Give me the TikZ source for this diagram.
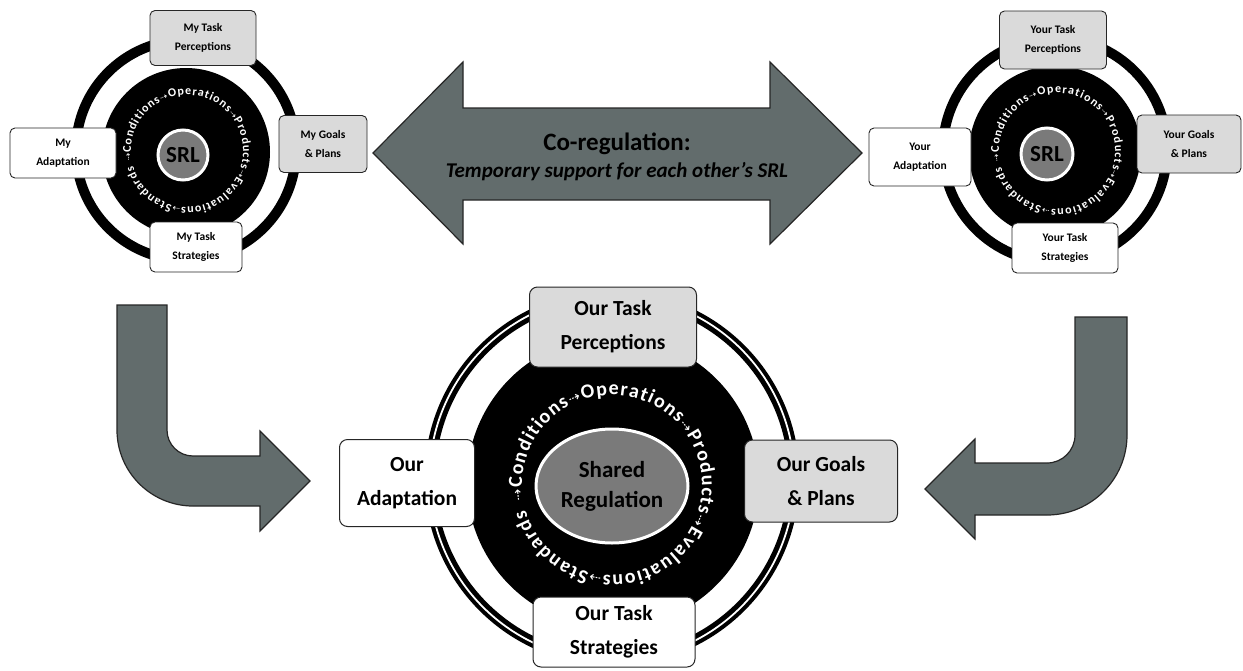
\documentclass[tikz,border=0pt]{standalone}
\usepackage{fontspec}
\setmainfont{Carlito}
\newfontfamily\arrowfamily{DejaVu Sans}
\usetikzlibrary{decorations.text,shapes.geometric}

\definecolor{arrowfill}{RGB}{98,108,108}
\definecolor{boxgray}{RGB}{218,218,218}
\definecolor{coregray}{RGB}{122,122,122}

% fonts of the cycle texts
\newcommand{\smallringfont}{\fontsize{12}{12}\selectfont\bfseries}
\newcommand{\smallarrowfont}{\arrowfamily\fontsize{9}{9}\selectfont}
\newcommand{\bigringfont}{\fontsize{20}{20}\selectfont\bfseries}
\newcommand{\bigarrowfont}{\arrowfamily\fontsize{14}{14}\selectfont}

% white cycle text written clockwise round a circle
% #1 centre, #2 radius, #3 letter font, #4 arrow font
\newcommand{\cyclering}[4]{%
  \path[decorate, decoration={text along path, text color=white,
    text align={fit to path},
    text={|#4|⇢|#3|Conditions|#4|⇢|#3|Operations|#4|⇢|#3|Products|#4|⇢|#3|Evaluations|#4|⇢|#3|Standards}}]
    (#1) ++(170:#2) arc[start angle=170, end angle=524, radius=#2];}

\tikzset{
  bigarrow/.style={fill=arrowfill, draw=black!85, line width=1.2pt, line join=miter},
  smallbox/.style={rounded corners=5pt, draw=black!85, line width=0.9pt, align=center,
    font=\fontsize{11.5}{19}\selectfont\bfseries, inner sep=0pt},
  bigbox/.style={rounded corners=8pt, draw=black!85, line width=1pt, align=center,
    font=\fontsize{21.5}{34}\selectfont\bfseries, inner sep=0pt},
  greybox/.style={fill=boxgray},
  whitebox/.style={fill=white},
  core/.style={fill=coregray, draw=white, line width=3pt, inner sep=0pt, align=center},
}

\begin{document}
\begin{tikzpicture}[x=1pt, y=-1pt]
\useasboundingbox[fill=white] (0,0) rectangle (1243,670);

% ---------- co-regulation double arrow ----------
\draw[bigarrow] (373,153) -- (463,62) -- (463,108) -- (770,108) -- (770,62) -- (862,153)
  -- (770,244) -- (770,200) -- (463,200) -- (463,244) -- cycle;
\node[align=center] (corelabel) at (617,157)
  {\fontsize{25}{27}\selectfont\bfseries Co-regulation:\\[6pt]
   \fontsize{21}{23}\selectfont\bfseries\itshape Temporary support for each other’s SRL};

% ---------- bent arrows into the shared cycle ----------
\draw[bigarrow] (117,305) -- (167,305) -- (167,430) arc[start angle=180, end angle=90, radius=26]
  -- (260,456) -- (260,431) -- (310,481) -- (260,531) -- (260,506) -- (193,506)
  arc[start angle=90, end angle=180, radius=76] -- cycle;
\draw[bigarrow] (1075,317) -- (1127,317) -- (1127,435) arc[start angle=0, end angle=90, radius=80]
  -- (975,515) -- (975,539) -- (925,489) -- (975,439) -- (975,463) -- (1047,463)
  arc[start angle=90, end angle=0, radius=28] -- cycle;

% ---------- my SRL cycle ----------
\draw[line width=10pt] (186,150) circle[radius=110];
\fill (186,152) circle[radius=84];
\cyclering{187,151}{56}{\smallringfont}{\smallarrowfont}
\node[core, circle, minimum size=50pt, font=\fontsize{23}{23}\selectfont\bfseries] (mysrl) at (183,155) {SRL};
\node[smallbox, greybox, minimum width=106pt, minimum height=55pt] (myperc) at (203,38) {My Task\\Perceptions};
\node[smallbox, greybox, minimum width=88pt, minimum height=57pt] (mygoals) at (323,144) {My Goals\\\& Plans};
\node[smallbox, whitebox, minimum width=106pt, minimum height=50pt] (myadapt) at (63,153) {My\\Adaptation};
\node[smallbox, whitebox, minimum width=92pt, minimum height=50pt] (mystrat) at (196,247) {My Task\\Strategies};

% ---------- your SRL cycle ----------
\draw[line width=10pt] (1055,150) circle[radius=112];
\fill (1055,152) circle[radius=86];
\cyclering{1057,151}{58}{\smallringfont}{\smallarrowfont}
\node[core, circle, minimum size=52pt, font=\fontsize{23}{23}\selectfont\bfseries] (yoursrl) at (1047,154) {SRL};
\node[smallbox, greybox, minimum width=107pt, minimum height=58pt] (yourperc) at (1053,40) {Your Task\\Perceptions};
\node[smallbox, greybox, minimum width=104pt, minimum height=58pt] (yourgoals) at (1189,144) {Your Goals\\\& Plans};
\node[smallbox, whitebox, minimum width=102pt, minimum height=58pt] (youradapt) at (920,157) {Your\\Adaptation};
\node[smallbox, whitebox, minimum width=106pt, minimum height=50pt] (yourstrat) at (1065,248) {Your Task\\Strategies};

% ---------- shared regulation cycle ----------
\draw[line width=11pt] (612,478) circle[radius=182];
\draw[white, line width=1.8pt] (612,478) circle[radius=182.5];
\fill (613,482) circle[radius=146];
\cyclering{612,485}{90}{\bigringfont}{\bigarrowfont}
\node[core, ellipse, minimum width=152pt, minimum height=114pt, font=\fontsize{23}{30}\selectfont\bfseries] (shared) at (612,486) {Shared\\Regulation};
\node[bigbox, greybox, minimum width=167pt, minimum height=80pt] (ourperc) at (613,327) {Our Task\\Perceptions};
\node[bigbox, whitebox, minimum width=135pt, minimum height=87pt] (ouradapt) at (407,483) {Our\\Adaptation};
\node[bigbox, greybox, minimum width=153pt, minimum height=82pt] (ourgoals) at (821,481) {Our Goals\\\& Plans};
\node[bigbox, whitebox, minimum width=162pt, minimum height=70pt] (ourstrat) at (614,632) {Our Task\\Strategies};
\end{tikzpicture}
\end{document}
